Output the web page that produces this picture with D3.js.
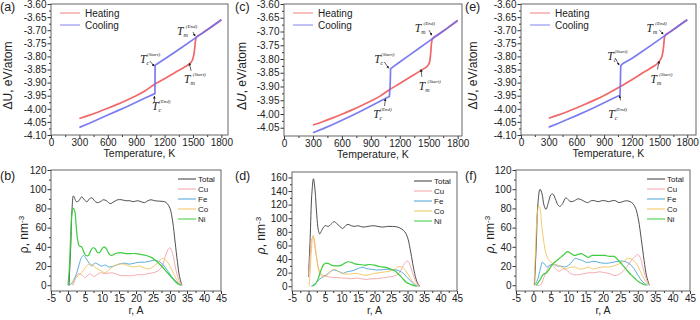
<!DOCTYPE html>
<html>
<head>
<meta charset="utf-8">
<script src="https://cdn.jsdelivr.net/npm/d3@7"></script>
<style>
  body { margin: 0; background: #fff; }
  text { font-family: Arial, "Liberation Sans", sans-serif; fill: #222; }
  .note text { font-family: "Liberation Serif", "Times New Roman", serif; font-style: italic; }
</style>
</head>
<body>
<svg id="chart" width="700" height="320"></svg>
<script>
// ---- top row: energy vs temperature, [T, dU] ----
var heatingA = [[300,-4.037],[400,-4.025],[500,-4.012],[600,-3.998],[700,-3.983],[800,-3.967],[900,-3.950],[1000,-3.930],[1100,-3.905],[1200,-3.885],[1300,-3.864],[1400,-3.843],[1450,-3.832],[1480,-3.822],[1500,-3.808],[1515,-3.780],[1525,-3.745],[1535,-3.727],[1600,-3.711],[1700,-3.686],[1800,-3.660]];
var coolingA = [[1800,-3.660],[1700,-3.686],[1600,-3.711],[1500,-3.736],[1400,-3.761],[1300,-3.786],[1200,-3.810],[1100,-3.834],[1098,-3.942],[1000,-3.958],[900,-3.975],[800,-3.992],[700,-4.008],[600,-4.024],[500,-4.040],[400,-4.056],[300,-4.071]];

var heatingC = [[300,-4.040],[400,-4.028],[500,-4.015],[600,-4.001],[700,-3.986],[800,-3.970],[900,-3.953],[1000,-3.934],[1100,-3.910],[1200,-3.889],[1300,-3.867],[1400,-3.846],[1450,-3.835],[1490,-3.824],[1510,-3.810],[1520,-3.780],[1528,-3.745],[1540,-3.726],[1600,-3.711],[1700,-3.686],[1800,-3.660]];
var coolingC = [[1800,-3.660],[1700,-3.686],[1600,-3.711],[1500,-3.736],[1400,-3.761],[1300,-3.786],[1200,-3.811],[1105,-3.835],[1100,-3.900],[1092,-3.936],[1000,-3.953],[900,-3.971],[800,-3.989],[700,-4.006],[600,-4.023],[500,-4.039],[400,-4.054],[300,-4.068]];

var heatingE = [[300,-4.036],[400,-4.024],[500,-4.011],[600,-3.997],[700,-3.982],[800,-3.966],[900,-3.949],[1000,-3.930],[1100,-3.910],[1200,-3.889],[1300,-3.867],[1400,-3.845],[1480,-3.826],[1510,-3.812],[1530,-3.795],[1545,-3.760],[1552,-3.730],[1565,-3.718],[1600,-3.710],[1700,-3.685],[1800,-3.660]];
var coolingE = [[1800,-3.660],[1700,-3.685],[1600,-3.710],[1500,-3.735],[1400,-3.760],[1300,-3.784],[1200,-3.808],[1100,-3.828],[1080,-3.836],[1076,-3.900],[1072,-3.948],[1000,-3.960],[900,-3.977],[800,-3.994],[700,-4.010],[600,-4.026],[500,-4.041],[400,-4.056],[300,-4.070]];

var tempTicks = [0, 300, 600, 900, 1200, 1500, 1800];
var energyTicks = [-3.60, -3.65, -3.70, -3.75, -3.80, -3.85, -3.90, -3.95, -4.00, -4.05, -4.10];
var energyTicksC = [-3.60, -3.65, -3.70, -3.75, -3.80, -3.85, -3.90, -3.95, -4.00, -4.05];
var energyLegend = ["Heating", "Cooling"];

// annotation: kind, tag, label [T,U], arrow from [T,U] to [T,U]
var notesA = [
  {k: "c", tag: "(Start)", at: [940, -3.825], from: [1046, -3.818], to: [1090, -3.837]},
  {k: "c", tag: "(End)", at: [1067, -4.005], from: [1092, -3.975], to: [1092, -3.952]},
  {k: "m", tag: "(Start)", at: [1405, -3.902], from: [1480, -3.855], to: [1462, -3.826]},
  {k: "m", tag: "(End)", at: [1331, -3.718], from: [1500, -3.707], to: [1522, -3.722]}
];
var notesC = [
  {k: "c", tag: "(Start)", at: [935, -3.815], from: [1040, -3.811], to: [1084, -3.833]},
  {k: "c", tag: "(End)", at: [924, -4.015], from: [1042, -3.971], to: [1052, -3.945]},
  {k: "m", tag: "(Start)", at: [1397, -3.913], from: [1429, -3.865], to: [1420, -3.838]},
  {k: "m", tag: "(End)", at: [1355, -3.702], from: [1502, -3.695], to: [1532, -3.713]}
];
var notesE = [
  {k: "c", tag: "(Start)", at: [935, -3.814], from: [1020, -3.806], to: [1062, -3.833]},
  {k: "c", tag: "(End)", at: [946, -4.035], from: [1078, -3.968], to: [1068, -3.950]},
  {k: "m", tag: "(Start)", at: [1403, -3.902], from: [1477, -3.850], to: [1496, -3.818]},
  {k: "m", tag: "(End)", at: [1360, -3.707], from: [1498, -3.699], to: [1540, -3.715]}
];

// ---- bottom row: density profiles, [r, rho] ----
var species = ["Total", "Cu", "Fe", "Co", "Ni"];

var totalB = [[0.3,0],[0.8,40],[1.2,80],[1.6,93],[2.5,87],[3.2,88],[4,92],[4.8,89],[5.6,87],[6.3,90],[7,91],[7.8,88],[8.6,86],[9.5,87],[10.4,89],[11.3,88],[12.4,85],[13.5,87],[14.6,89],[15.8,89],[17,88],[18.2,88],[19.2,87],[20.4,88],[21.5,87],[22.5,86],[23.5,88],[24.4,89],[25.5,88],[27,87.5],[28.4,87],[29.2,85],[30,80],[30.8,66],[31.5,45],[32.2,24],[32.8,9],[33.5,0]];
var cuB = [[1.5,0],[2.3,8],[3,12],[4,11],[5,8],[6,11],[6.5,12],[7.5,9],[8.5,11],[9.5,13],[11,12],[12.5,13],[14,12],[15.5,10],[17,10],[19,10],[20.5,11],[22,11],[23.5,12],[25,13],[26.5,15],[27.7,20],[28.6,30],[29.4,37],[30,39],[30.6,35],[31.3,24],[32,12],[32.8,4],[33.5,0]];
var feB = [[0,0],[0.8,1],[1.6,5],[2.5,12],[3.3,22],[4,29],[4.6,31],[5.3,28],[6.2,23],[7,20],[7.8,23],[8.8,22],[9.8,20],[11,21],[12,19],[13.5,20],[15,22],[16.5,23],[18,22],[19.5,23],[21,24],[22.5,24],[24,25],[25.5,26],[26.6,25],[27.5,23],[28.5,19],[29.5,14],[30.5,9],[31.5,5],[32.5,2],[33.5,0]];
var coB = [[1.2,0],[2,6],[3,10],[4,13],[5,18],[6.2,22],[7.2,21],[8.2,18],[9.2,16],[10.2,14],[11,13],[12,16],[13.5,20],[15,22],[16.5,22],[18,20],[19.5,19],[21,20],[22.5,18],[23.5,17],[25,19],[26.5,24],[27.8,28],[28.8,26],[29.8,21],[30.8,14],[31.8,7],[32.7,2],[33.5,0]];
var niB = [[0,0],[0.4,18],[0.8,52],[1.2,76],[1.6,80],[2,77],[2.4,62],[2.8,48],[3.3,41],[4,40],[4.6,35],[5.3,31],[6,31],[6.7,36],[7.3,39],[8,38],[8.7,34],[9.3,34],[10,38],[10.6,40],[11.3,38],[12,33],[12.8,31],[14,33],[15.5,34],[17,33],[18.5,33],[20,33],[21.5,32],[23,31],[24.5,29],[26,25],[27.5,20],[29,14],[30.5,8],[31.5,4],[32.5,1],[33.3,0]];

var totalD = [[0,14],[0.5,70],[1,135],[1.5,158],[2,140],[2.5,105],[3,82],[3.4,77],[4,82],[5,89],[6,88],[7,92],[7.8,95],[8.6,92],[9.5,88],[10.4,85],[11.2,89],[12,91],[13,89],[14,88],[15,89],[16.5,87],[18,88],[19.5,89],[21,88],[22.5,87],[24,88],[25.5,88],[27,87],[28.3,84],[29.2,80],[30,72],[30.8,55],[31.6,33],[32.4,14],[33.2,3],[33.8,0]];
var cuD = [[0,16],[0.5,45],[1,70],[1.4,72],[2,55],[2.6,38],[3.2,24],[4,17],[5,15],[6,14],[7,13],[8.5,13],[10,12],[11.5,12],[13,11],[14.5,12],[16,11],[17.5,10],[19,11],[20.5,11],[22,12],[23.5,13],[25,14],[26.5,16],[27.7,21],[28.7,30],[29.5,36],[30.1,37],[30.8,31],[31.5,20],[32.3,9],[33,3],[33.6,0]];
var feD = [[0.8,0],[1.6,2],[2.5,6],[3.5,11],[4.5,14],[5.5,17],[6.5,21],[7.5,24],[8.5,23],[9.5,21],[10.5,19],[11.5,21],[12.5,22],[13.5,23],[14.5,25],[15.5,27],[16.5,28],[17.5,26],[19,25],[20.5,24],[22,24],[23.5,25],[25,24],[26.5,24],[27.7,22],[28.7,19],[29.7,14],[30.7,9],[31.7,4],[32.6,1],[33.4,0]];
var coD = [[0.2,0],[0.6,30],[1,62],[1.4,75],[1.8,68],[2.3,48],[2.8,30],[3.5,18],[4.3,14],[5.2,15],[6.2,19],[7.2,24],[8,25],[9,22],[10,19],[11,18],[12.5,18],[14,19],[15.5,18],[17,16],[18.5,17],[20,19],[21.5,20],[23,21],[24.5,22],[26,25],[27.4,29],[28.4,28],[29.4,23],[30.4,16],[31.4,8],[32.4,3],[33.4,0]];
var niD = [[1.2,0],[2.2,4],[3,12],[3.8,24],[4.6,32],[5.4,34],[6.2,33],[7,31],[8,30],[9,30],[10,31],[11,34],[12,36],[13,35],[14,33],[15.5,32],[17,31],[18.5,32],[20,31],[21.5,29],[23,28],[24.5,26],[26,23],[27.2,18],[28.4,12],[29.6,6],[30.8,3],[32,1],[32.8,0]];

var totalF = [[0.3,0],[0.8,40],[1.3,85],[1.9,100],[2.5,95],[3,84],[3.6,79],[4.3,86],[5,94],[5.6,95],[6.3,90],[7,84],[7.6,82],[8.4,85],[9.3,91],[10,89],[10.8,87],[11.8,88],[12.8,90],[13.8,89],[14.8,87],[15.6,86],[16.6,88],[17.6,88],[18.6,87],[19.6,88],[20.6,88],[21.6,87],[22.6,88],[23.6,88],[24.6,86],[25.6,87],[26.8,88],[27.8,87],[28.6,85],[29.4,80],[30.2,68],[31,48],[31.8,26],[32.5,10],[33.3,0]];
var cuF = [[0.8,0],[2,0],[3,8],[3.8,15],[4.6,20],[5.4,21],[6.2,18],[7,15],[7.8,15],[8.6,17],[9.4,16],[10.4,13],[11.5,11],[13,11],[14.5,12],[16,13],[17.5,13],[19,14],[20.5,13],[22,12],[23.2,10],[24.4,11],[25.6,14],[26.8,19],[28,25],[29.2,30],[30,32],[30.8,28],[31.5,18],[32.3,8],[33.2,0]];
var feF = [[0.4,0],[1.2,6],[2,17],[2.6,24],[3.2,22],[3.9,19],[4.8,21],[5.8,22],[6.8,20],[7.8,20],[9,19],[10.2,21],[11.2,25],[12,28],[13,27],[14,26],[15,24],[16.2,24],[17.4,25],[18.6,24],[20,23],[21.5,23],[23,24],[24.5,25],[26,25],[27.3,23],[28.3,20],[29.3,15],[30.3,9],[31.3,4],[32.3,1],[33,0]];
var coF = [[0.2,0],[0.6,35],[1,68],[1.5,83],[1.9,80],[2.4,62],[3,45],[3.6,33],[4.3,27],[5,24],[6,22],[7,21],[8,19],[9,17],[10,18],[11,19],[12,19],[13,17],[14,17],[15,18],[16,19],[17,17],[18.5,18],[20,19],[21.5,19],[23,20],[24.5,22],[26,25],[27.3,28],[28.3,27],[29.3,24],[30.3,18],[31.3,10],[32.3,4],[33.3,0]];
var niF = [[0.8,0],[1.8,5],[2.8,11],[3.8,13],[4.8,18],[5.8,23],[6.8,26],[7.8,29],[8.8,32],[9.8,35],[10.8,33],[11.8,31],[12.8,32],[13.8,33],[14.8,31],[15.8,29],[16.8,31],[17.8,31],[19,31],[20.5,31],[22,30],[23.2,30],[24.4,26],[25.6,21],[26.8,16],[28,11],[29.2,7],[30.4,3],[31.6,1],[32.5,0]];

var radiusTicks = [-5, 0, 5, 10, 15, 20, 25, 30, 35, 40, 45];
var densityTicks = [0, 20, 40, 60, 80, 100, 120];
var densityTicksD = [0, 20, 40, 60, 80, 100, 120, 140, 160];

var speciesColor = d3.scaleOrdinal()
  .domain(species)
  .range(["#3a3a3a", "#f2a3a8", "#4aa3d6", "#f0c35a", "#3ccc3c"]);
var heatColor = "#f06868";
var coolColor = "#6e6ef0";

var svg = d3.select("#chart");
svg.append("rect").attr("width", 700).attr("height", 320).attr("fill", "#fff");

svg.append("defs").append("marker")
  .attr("id", "arrow")
  .attr("viewBox", "0 0 6 6")
  .attr("refX", 5).attr("refY", 3)
  .attr("markerWidth", 4).attr("markerHeight", 4)
  .attr("orient", "auto")
  .append("path").attr("d", "M0,0L6,3L0,6Z").attr("fill", "#222");

var fmt2 = function (d) { return d.toFixed(2); };
var fmt0 = function (d) { return String(d); };

function halfSteps(ticks) {
  var out = [];
  for (var i = 0; i < ticks.length - 1; i++) out.push((ticks[i] + ticks[i + 1]) / 2);
  return out;
}

function drawFrame(g, x, y, xTicks, yTicks, yFmt) {
  var w = x.range()[1] - x.range()[0];
  var h = y.range()[0] - y.range()[1];
  var xl = x.range()[0], yt = y.range()[1], yb = y.range()[0];

  var xMinor = halfSteps(xTicks).concat([xTicks[xTicks.length - 1] + (xTicks[1] - xTicks[0]) / 2])
    .filter(function (d) { return d >= x.domain()[0] && d <= x.domain()[1]; });
  var yMinor = halfSteps(yTicks).filter(function (d) { return d >= d3.min(y.domain()) && d <= d3.max(y.domain()); });

  g.append("g").attr("transform", "translate(0," + yb + ")")
    .call(d3.axisBottom(x).tickValues(xMinor).tickSize(2).tickFormat(""));
  g.append("g").attr("transform", "translate(" + xl + ",0)")
    .call(d3.axisLeft(y).tickValues(yMinor).tickSize(2).tickFormat(""));

  var xa = g.append("g").attr("transform", "translate(0," + yb + ")")
    .call(d3.axisBottom(x).tickValues(xTicks).tickSize(3).tickPadding(0.5).tickFormat(fmt0));
  var ya = g.append("g").attr("transform", "translate(" + xl + ",0)")
    .call(d3.axisLeft(y).tickValues(yTicks).tickSize(3.5).tickPadding(1).tickFormat(yFmt));

  [xa, ya].forEach(function (a) {
    a.selectAll("text").attr("font-size", 10).attr("font-family", "Arial, 'Liberation Sans', sans-serif").attr("fill", "#222");
  });
  g.selectAll(".domain").remove();
  g.selectAll(".tick line").attr("stroke", "#333");

  g.append("rect")
    .attr("x", xl).attr("y", yt).attr("width", w).attr("height", h)
    .attr("fill", "none").attr("stroke", "#555").attr("stroke-width", 0.9);
}

function drawEnergyPanel(cfg) {
  var g = svg.append("g");
  var x = d3.scaleLinear().domain([0, cfg.xMax]).range([cfg.left, cfg.right]);
  var y = d3.scaleLinear().domain(cfg.yDomain).range([cfg.bottom, cfg.top]);

  var line = d3.line()
    .x(function (d) { return x(d[0]); })
    .y(function (d) { return y(d[1]); })
    .curve(d3.curveMonotoneX);
  var lineRaw = d3.line()
    .x(function (d) { return x(d[0]); })
    .y(function (d) { return y(d[1]); });

  g.append("path").datum(cfg.heating)
    .attr("d", line).attr("fill", "none")
    .attr("stroke", heatColor).attr("stroke-width", 1.7);
  g.append("path").datum(cfg.cooling)
    .attr("d", lineRaw).attr("fill", "none")
    .attr("stroke", coolColor).attr("stroke-width", 1.7).attr("stroke-opacity", 0.9);

  drawFrame(g, x, y, tempTicks, cfg.yTicks, fmt2);

  // legend
  var lg = g.append("g").attr("transform", "translate(" + (cfg.left + 9) + "," + (cfg.top + 9) + ")");
  energyLegend.forEach(function (name, i) {
    lg.append("line").attr("x1", 0).attr("x2", 20).attr("y1", i * 12).attr("y2", i * 12)
      .attr("stroke", i === 0 ? heatColor : coolColor).attr("stroke-width", 1.2).attr("stroke-opacity", 0.7);
    lg.append("text").attr("x", 25).attr("y", i * 12 + 3.5).attr("font-size", 10).text(name);
  });

  // annotations
  var ng = g.append("g").attr("class", "note");
  cfg.notes.forEach(function (n) {
    var t = ng.append("text").attr("x", x(n.at[0])).attr("y", y(n.at[1])).attr("font-size", 11.5);
    t.append("tspan").text("T");
    t.append("tspan").attr("font-size", 6).attr("dy", 2).text(n.k);
    t.append("tspan").attr("font-size", 5).attr("dy", -9).attr("dx", -2).text(n.tag);
    ng.append("line")
      .attr("x1", x(n.from[0])).attr("y1", y(n.from[1]))
      .attr("x2", x(n.to[0])).attr("y2", y(n.to[1]))
      .attr("stroke", "#222").attr("stroke-width", 0.7)
      .attr("marker-end", "url(#arrow)");
  });

  // titles
  svg.append("text").attr("x", (cfg.left + cfg.right) / 2).attr("y", cfg.bottom + 22)
    .attr("text-anchor", "middle").attr("font-size", 10.5).text("Temperature, K");
  var yt = svg.append("text")
    .attr("transform", "translate(" + cfg.yTitleX + "," + ((cfg.top + cfg.bottom) / 2 + 6) + ") rotate(-90)")
    .attr("text-anchor", "middle").attr("font-size", 12);
  yt.append("tspan").text("\u0394");
  yt.append("tspan").attr("font-style", cfg.italicU ? "italic" : "normal").text("U");
  yt.append("tspan").text(", eV/atom");
  svg.append("text").attr("x", cfg.labelX).attr("y", 11).attr("font-size", 12.5).text(cfg.label);
}

function drawDensityPanel(cfg) {
  var g = svg.append("g");
  var x = d3.scaleLinear().domain([-5, 45]).range([cfg.left, cfg.right]);
  var y = d3.scaleLinear().domain(cfg.yDomain).range([cfg.bottom, cfg.top]);

  var line = d3.line()
    .x(function (d) { return x(d[0]); })
    .y(function (d) { return y(d[1]); })
    .curve(d3.curveCatmullRom.alpha(0.5));

  cfg.series.forEach(function (s, i) {
    g.append("path").datum(s)
      .attr("d", line).attr("fill", "none")
      .attr("stroke", speciesColor(species[i])).attr("stroke-width", i === 4 ? 1.2 : 0.9);
  });

  drawFrame(g, x, y, radiusTicks, cfg.yTicks, fmt0);

  var lg = g.append("g").attr("transform", "translate(" + (cfg.right - 43) + "," + (cfg.top + 9) + ")");
  species.forEach(function (name, i) {
    lg.append("line").attr("x1", 0).attr("x2", 18).attr("y1", i * 10).attr("y2", i * 10)
      .attr("stroke", speciesColor(name)).attr("stroke-width", 1);
    lg.append("text").attr("x", 20).attr("y", i * 10 + 3).attr("font-size", 8).text(name);
  });

  svg.append("text").attr("x", (cfg.left + cfg.right) / 2).attr("y", cfg.bottom + 23)
    .attr("text-anchor", "middle").attr("font-size", 10.5).text("r, A");
  var yt = svg.append("text")
    .attr("transform", "translate(" + cfg.yTitleX + "," + ((cfg.top + cfg.bottom) / 2 + 4) + ") rotate(-90)")
    .attr("text-anchor", "middle").attr("font-size", 12);
  yt.append("tspan").attr("font-style", cfg.italicRho ? "italic" : "normal").text("\u03c1");
  yt.append("tspan").text(", nm");
  yt.append("tspan").attr("font-size", 8).attr("dy", -4).text("-3");
  svg.append("text").attr("x", cfg.labelX).attr("y", 180).attr("font-size", 12.5).text(cfg.label);
}

drawEnergyPanel({label: "(a)", labelX: 0, left: 51, right: 228, xMax: 1870, top: 4, bottom: 135, yDomain: [-4.10, -3.60], yTicks: energyTicks, heating: heatingA, cooling: coolingA, notes: notesA, yTitleX: 12, italicU: false});
drawEnergyPanel({label: "(c)", labelX: 235, left: 284, right: 462, xMax: 1845, top: 4, bottom: 136, yDomain: [-4.08, -3.60], yTicks: energyTicksC, heating: heatingC, cooling: coolingC, notes: notesC, yTitleX: 246, italicU: true});
drawEnergyPanel({label: "(e)", labelX: 465, left: 521, right: 696, xMax: 1895, top: 4, bottom: 135, yDomain: [-4.10, -3.60], yTicks: energyTicks, heating: heatingE, cooling: coolingE, notes: notesE, yTitleX: 477, italicU: true});

drawDensityPanel({label: "(b)", labelX: 0, left: 51, right: 221, top: 170, bottom: 291, yDomain: [-6, 120], yTicks: densityTicks, series: [totalB, cuB, feB, coB, niB], yTitleX: 28, italicRho: false});
drawDensityPanel({label: "(d)", labelX: 235, left: 292, right: 457, top: 172, bottom: 291, yDomain: [-7, 168], yTicks: densityTicksD, series: [totalD, cuD, feD, coD, niD], yTitleX: 265, italicRho: true});
drawDensityPanel({label: "(f)", labelX: 465, left: 516, right: 690, top: 170, bottom: 291, yDomain: [-6, 120], yTicks: densityTicks, series: [totalF, cuF, feF, coF, niF], yTitleX: 494, italicRho: true});
</script>
</body>
</html>
